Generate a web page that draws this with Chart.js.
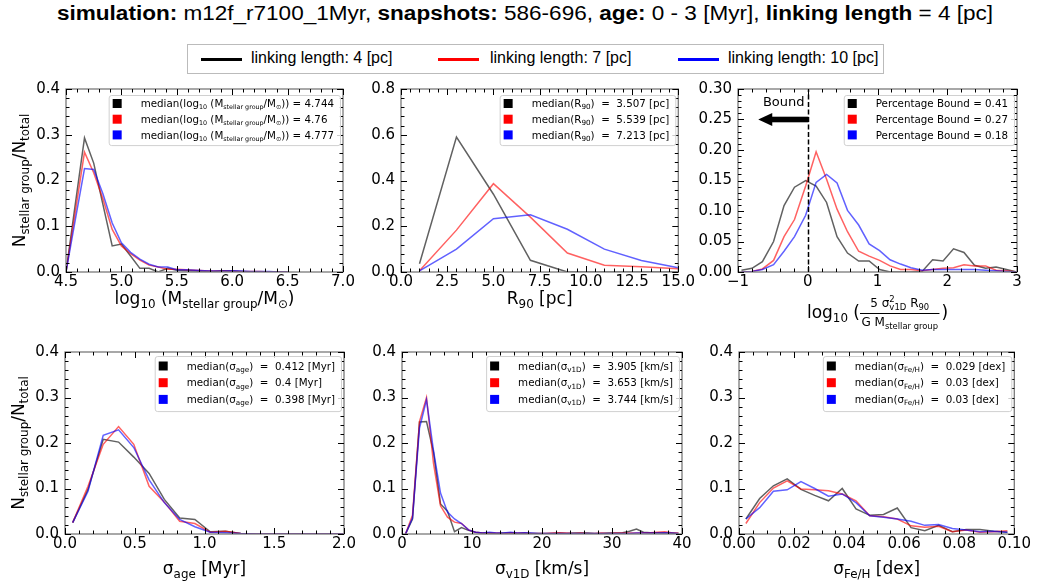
<!DOCTYPE html>
<html>
<head>
<meta charset="utf-8">
<script src="https://cdn.jsdelivr.net/npm/chart.js@4.4.0/dist/chart.umd.min.js"></script>
<style>
  body { margin: 0; background: #fff; width: 1038px; height: 587px; position: relative; overflow: hidden; }
  #title { position: absolute; top: 2px; left: 57px; white-space: nowrap; font-family: 'Liberation Sans'; font-size: 20px; transform-origin: 0 0; color: #000; }
  #legend { position: absolute; left: 187px; top: 44px; width: 697px; height: 30px; border: 1px solid #bbb; box-sizing: border-box; }
  #legend .key { position: absolute; top: 13px; width: 41px; height: 3px; }
  #legend .lab { position: absolute; top: 4px; font-family: 'Liberation Sans'; font-size: 16px; white-space: nowrap; color: #000; }
</style>
</head>
<body>
<div id="title"><b>simulation:</b> m12f_r7100_1Myr, <b>snapshots:</b> 586-696, <b>age:</b> 0 - 3 [Myr], <b>linking length</b> = 4 [pc]</div>
<div id="legend"></div>
<script>
// series: linking length 4, 7, 10 pc
const seriesLabels = ['linking length: 4 [pc]', 'linking length: 7 [pc]', 'linking length: 10 [pc]'];
const lineColors = ['rgba(0,0,0,0.62)', 'rgba(255,0,0,0.62)', 'rgba(0,0,255,0.62)'];
const keyColors = ['#000', '#f00', '#00f'];

// panel 1: log10 stellar group mass
const massBins = [4.5, 4.583, 4.667, 4.75, 4.833, 4.917, 5.0, 5.083, 5.167, 5.25, 5.333, 5.417, 5.5, 5.583, 5.667, 5.75, 5.833, 5.917, 6.0, 6.083, 6.167, 6.25, 6.333, 6.417, 6.5];
const massLL4 = [0, 0.147, 0.293, 0.238, 0.148, 0.057, 0.061, 0.035, 0.008, 0.008, 0.0, 0.008, 0.004, 0.003, 0.002, 0.001, 0.001, 0.003, 0.002, 0.001, 0, 0, 0, 0, 0];
const massLL7 = [0, 0.13, 0.262, 0.217, 0.16, 0.093, 0.057, 0.040, 0.026, 0.015, 0.011, 0.006, 0.006, 0.005, 0.004, 0.003, 0.002, 0.002, 0.002, 0.001, 0.001, 0.001, 0, 0, 0];
const massLL10 = [0, 0.113, 0.226, 0.224, 0.171, 0.107, 0.064, 0.043, 0.028, 0.017, 0.011, 0.011, 0.005, 0.005, 0.004, 0.003, 0.002, 0.002, 0.003, 0.002, 0.001, 0.001, 0.001, 0, 0];
const massMedian = ['4.744', '4.76', '4.777'];

// panel 2: R90
const r90Bins = [1, 3, 5, 7, 9, 11, 13, 15];
const r90LL4 = [0.036, 0.59, 0.34, 0.051, 0.0, 0.0, 0.0, 0.0];
const r90LL7 = [0.005, 0.183, 0.386, 0.24, 0.083, 0.03, 0.023, 0.014];
const r90LL10 = [0.005, 0.10, 0.233, 0.25, 0.187, 0.10, 0.05, 0.019];
const r90Median = ['3.507', '5.539', '7.213'];

// panel 3: virial parameter
const boundBins = [-0.95, -0.80, -0.65, -0.49, -0.34, -0.19, -0.03, 0.12, 0.27, 0.42, 0.57, 0.73, 0.88, 1.03, 1.18, 1.33, 1.48, 1.64, 1.79, 1.94, 2.09, 2.24, 2.39, 2.55, 2.70, 2.85, 3.0];
const boundLL4 = [0.003, 0.006, 0.017, 0.050, 0.109, 0.139, 0.150, 0.141, 0.114, 0.058, 0.031, 0.018, 0.018, 0.004, 0.0, 0, 0, 0.001, 0.020, 0.018, 0.038, 0.032, 0.011, 0.006, 0.008, 0.004, 0.0];
const boundLL7 = [0.0, 0.001, 0.005, 0.019, 0.058, 0.086, 0.141, 0.197, 0.152, 0.103, 0.066, 0.034, 0.026, 0.019, 0.010, 0.004, 0.004, 0.002, 0.004, 0.006, 0.007, 0.012, 0.010, 0.010, 0.003, 0.002, 0.0];
const boundLL10 = [0.0, 0.001, 0.004, 0.012, 0.034, 0.058, 0.093, 0.147, 0.160, 0.146, 0.101, 0.077, 0.046, 0.035, 0.020, 0.013, 0.007, 0.003, 0.004, 0.004, 0.004, 0.004, 0.004, 0.003, 0.002, 0.001, 0.0];
const boundPct = ['0.41', '0.27', '0.18'];

// panel 4: age spread
const ageBins = [0.055, 0.165, 0.274, 0.384, 0.493, 0.603, 0.712, 0.822, 0.931, 1.041, 1.150, 1.260, 1.369, 1.479, 1.588, 1.698, 1.807, 1.917, 2.026];
const ageLL4 = [0.025, 0.098, 0.208, 0.202, 0.169, 0.133, 0.076, 0.035, 0.032, 0.005, 0.006, 0.001, 0, 0, 0, 0, 0, 0, 0];
const ageLL7 = [0.025, 0.105, 0.197, 0.236, 0.197, 0.105, 0.070, 0.028, 0.023, 0.004, 0.006, 0.001, 0, 0, 0, 0, 0, 0, 0];
const ageLL10 = [0.025, 0.094, 0.217, 0.229, 0.190, 0.119, 0.069, 0.032, 0.016, 0.004, 0.003, 0.001, 0, 0, 0, 0, 0, 0, 0];
const ageMedian = ['0.412', '0.4', '0.398'];

// panel 5: 1D velocity dispersion
const velBins = [0.5, 1.5, 2.5, 3.5, 4.5, 5.5, 6.5, 7.5, 8.5, 9.5, 10.5, 11.5, 12.5, 13.5, 14.5, 15.5, 16.5, 17.5, 18.5, 19.5,
                 20.5, 21.5, 22.5, 23.5, 24.5, 25.5, 26.5, 27.5, 28.5, 29.5, 30.5, 31.5, 32.5, 33.5, 34.5, 35.5, 36.5, 37.5, 38.5, 39.5];
const velLL4 = [0, 0.033, 0.246, 0.247, 0.18, 0.066, 0.05, 0.005, 0.014, 0.008, 0.004, 0.002, 0.002, 0.001, 0.002, 0.002, 0.001, 0.002, 0.001, 0.001,
                0.001, 0.001, 0.002, 0.001, 0.002, 0.002, 0.002, 0.001, 0.001, 0.002, 0.002, 0.003, 0.006, 0.011, 0.004, 0.003, 0.003, 0.002, 0.002, 0.001];
const velLL7 = [0, 0.041, 0.247, 0.300, 0.155, 0.062, 0.037, 0.026, 0.023, 0.009, 0.004, 0.002, 0.002, 0.002, 0.001, 0.003, 0.002, 0.002, 0.001, 0.001,
                0.001, 0.002, 0.003, 0.002, 0.001, 0.002, 0.001, 0.001, 0.002, 0.001, 0.002, 0.002, 0.002, 0.002, 0.003, 0.003, 0.004, 0.005, 0.003, 0.002];
const velLL10 = [0, 0.035, 0.233, 0.295, 0.183, 0.090, 0.048, 0.033, 0.023, 0.009, 0.004, 0.002, 0.004, 0.002, 0.002, 0.004, 0.002, 0.003, 0.002, 0.001,
                 0.001, 0.001, 0.001, 0.001, 0.001, 0.001, 0.001, 0.001, 0.001, 0.001, 0.001, 0.001, 0.001, 0.002, 0.002, 0.002, 0.002, 0.003, 0.002, 0.001];
const velMedian = ['3.905', '3.653', '3.744'];

// panel 6: metallicity spread
const fehBins = [0.0025, 0.0075, 0.0125, 0.0175, 0.0225, 0.0275, 0.0325, 0.0375, 0.0425, 0.0475, 0.0525, 0.0575, 0.0625, 0.0675, 0.0725, 0.0775, 0.0825, 0.0875, 0.0925, 0.0975];
const fehLL4 = [0.033, 0.078, 0.106, 0.121, 0.098, 0.085, 0.073, 0.100, 0.055, 0.041, 0.043, 0.057, 0.014, 0.007, 0.019, 0.005, 0.010, 0.010, 0.006, 0.004];
const fehLL7 = [0.023, 0.069, 0.101, 0.117, 0.099, 0.097, 0.095, 0.088, 0.073, 0.040, 0.038, 0.033, 0.018, 0.015, 0.017, 0.005, 0.009, 0.004, 0.005, 0.007];
const fehLL10 = [0.033, 0.058, 0.094, 0.097, 0.115, 0.100, 0.083, 0.088, 0.069, 0.040, 0.037, 0.033, 0.028, 0.019, 0.021, 0.012, 0.009, 0.005, 0.006, 0.004];
const fehMedian = ['0.029', '0.03', '0.03'];

// tick labels
const fracYTicks = ['0.0', '0.1', '0.2', '0.3', '0.4'];
const r90YTicks = ['0.0', '0.2', '0.4', '0.6', '0.8'];
const boundYTicks = ['0.00', '0.05', '0.10', '0.15', '0.20', '0.25', '0.30'];
const massXTicks = ['4.5', '5.0', '5.5', '6.0', '6.5', '7.0'];
const r90XTicks = ['0.0', '2.5', '5.0', '7.5', '10.0', '12.5', '15.0'];
const boundXTicks = ['\u22121', '0', '1', '2', '3'];
const ageXTicks = ['0.0', '0.5', '1.0', '1.5', '2.0'];
const velXTicks = ['0', '10', '20', '30', '40'];
const fehXTicks = ['0.00', '0.02', '0.04', '0.06', '0.08', '0.10'];

const FONT = "'DejaVu Sans'";
Chart.defaults.font.family = 'DejaVu Sans';
Chart.defaults.font.size = 15;
Chart.defaults.color = '#000';

const tickVal = s => Number(s.replace('\u2212', '-'));

// rich text: parts are [text, mode] with mode 'b' = subscript, 'p' = superscript
function setFont(ctx, size) { ctx.font = size + 'px ' + FONT; }
function partsWidth(ctx, parts, size, sub = 0.7) {
  let w = 0;
  for (const [t, m] of parts) { setFont(ctx, m ? size * sub : size); w += ctx.measureText(t).width; }
  return w;
}
function drawParts(ctx, parts, x, y, size, align, sub = 0.7) {
  const w = partsWidth(ctx, parts, size, sub);
  let cx = align === 'center' ? x - w / 2 : align === 'right' ? x - w : x;
  ctx.textAlign = 'left';
  ctx.textBaseline = 'alphabetic';
  for (const [t, m] of parts) {
    setFont(ctx, m ? size * sub : size);
    const dy = m === 'b' ? size * 0.22 : m === 'p' ? -size * 0.4 : 0;
    ctx.fillText(t, cx, y + dy);
    cx += ctx.measureText(t).width;
  }
  return w;
}

const yTitle = [['N'], ['stellar group', 'b'], ['/N'], ['total', 'b']];

const PANELS = [
  { row: 0, col: 0, box: [66, 84, 343, 272], xs: massBins, ys: [massLL4, massLL7, massLL10],
    xMin: 4.5, xMax: 7.0, xTicks: massXTicks, xMinor: 0.1, yMax: 0.4, yTicks: fracYTicks, yMinor: 0.02,
    xTitle: [['log'], ['10', 'b'], [' (M'], ['stellar group', 'b'], ['/M'], ['\u2299', 'b'], [')']],
    legendSub: 0.62,
    legend: massMedian.map(v => [['median(log'], ['10', 'b'], [' (M'], ['stellar group', 'b'], ['/M'], ['\u2299', 'b'], [')) = ' + v]]) },
  { row: 0, col: 1, box: [401, 84, 682, 272], xs: r90Bins, ys: [r90LL4, r90LL7, r90LL10],
    xMin: 0, xMax: 15, xTicks: r90XTicks, xMinor: 0.5, yMax: 0.8, yTicks: r90YTicks, yMinor: 0.04,
    xTitle: [['R'], ['90', 'b'], [' [pc]']],
    legend: r90Median.map(v => [['median(R'], ['90', 'b'], [')  =  ' + v + ' [pc]']]) },
  { row: 0, col: 2, box: [738, 84, 1017, 272], xs: boundBins, ys: [boundLL4, boundLL7, boundLL10],
    xMin: -1, xMax: 3, xTicks: boundXTicks, xMinor: 0.2, yMax: 0.3, yTicks: boundYTicks, yMinor: 0.01,
    xTitle: null, bound: true,
    legend: boundPct.map(v => [['Percentage Bound = ' + v]]) },
  { row: 1, col: 0, box: [65, 347, 344, 534], xs: ageBins, ys: [ageLL4, ageLL7, ageLL10],
    xMin: 0, xMax: 2, xTicks: ageXTicks, xMinor: 0.1, yMax: 0.4, yTicks: fracYTicks, yMinor: 0.02,
    xTitle: [['\u03c3'], ['age', 'b'], [' [Myr]']],
    legend: ageMedian.map(v => [['median(\u03c3'], ['age', 'b'], [')  =  ' + v + ' [Myr]']]) },
  { row: 1, col: 1, box: [402, 347, 682, 534], xs: velBins, ys: [velLL4, velLL7, velLL10],
    xMin: 0, xMax: 40, xTicks: velXTicks, xMinor: 2, yMax: 0.4, yTicks: fracYTicks, yMinor: 0.02,
    xTitle: [['\u03c3'], ['v1D', 'b'], [' [km/s]']],
    legend: velMedian.map(v => [['median(\u03c3'], ['v1D', 'b'], [')  =  ' + v + ' [km/s]']]) },
  { row: 1, col: 2, box: [739, 347, 1018, 534], xs: fehBins, ys: [fehLL4, fehLL7, fehLL10],
    xMin: 0, xMax: 0.1, xTicks: fehXTicks, xMinor: 0.005, yMax: 0.4, yTicks: fracYTicks, yMinor: 0.02,
    xTitle: [['\u03c3'], ['Fe/H', 'b'], [' [dex]']],
    legend: fehMedian.map(v => [['median(\u03c3'], ['Fe/H', 'b'], [')  =  ' + v + ' [dex]']]) }
];

// x label of the virial panel: log10( 5 sigma^2 R90 / G M )
function drawBoundTitle(ctx, cx, base) {
  const big = 17, sm = 12, tiny = 8.5;
  const left = [['log'], ['10', 'b'], [' (']];
  const wl = partsWidth(ctx, left, big);
  setFont(ctx, sm); const w5 = ctx.measureText('5 \u03c3').width;
  setFont(ctx, tiny); const wSS = Math.max(ctx.measureText('2').width, ctx.measureText('v1D').width);
  const numTail = [[' R'], ['90', 'b']];
  const wNum = w5 + wSS + partsWidth(ctx, numTail, sm);
  const den = [['G M'], ['stellar group', 'b']];
  const wDen = partsWidth(ctx, den, sm);
  const wf = Math.max(wNum, wDen) + 3;
  setFont(ctx, big); const wr = ctx.measureText(')').width;
  const total = wl + wf + 2 + wr;
  let x = cx - total / 2;
  drawParts(ctx, left, x, base, big, 'left');
  x += wl;
  // numerator
  let nx = x + (wf - wNum) / 2, ny = base - 11;
  setFont(ctx, sm); ctx.fillText('5 \u03c3', nx, ny); nx += w5;
  setFont(ctx, tiny); ctx.fillText('2', nx, ny - 5); ctx.fillText('v1D', nx, ny + 2.5); nx += wSS;
  drawParts(ctx, numTail, nx, ny, sm, 'left');
  // bar
  ctx.fillRect(x, base - 5, wf, 1);
  drawParts(ctx, den, x + (wf - wDen) / 2, base + 8, sm, 'left');
  x += wf + 2;
  setFont(ctx, big); ctx.fillText(')', x, base);
}

function decor(p) {
  return {
    id: 'decor',
    afterDatasetsDraw(chart) {
      const ctx = chart.ctx, a = chart.chartArea, sx = chart.scales.x, sy = chart.scales.y;
      ctx.save();
      ctx.fillStyle = '#000';

      if (p.bound) {
        const x0 = Math.round(sx.getPixelForValue(0)) + 0.5;
        ctx.strokeStyle = '#000'; ctx.lineWidth = 1.5; ctx.setLineDash([5, 2.5]);
        ctx.beginPath(); ctx.moveTo(x0, a.bottom); ctx.lineTo(x0, a.top); ctx.stroke();
        ctx.setLineDash([]);
        const ay = sy.getPixelForValue(0.25), tip = sx.getPixelForValue(-0.71);
        ctx.fillRect(tip + 12, ay - 2.8, x0 - tip - 12, 5.6);
        ctx.beginPath(); ctx.moveTo(tip, ay); ctx.lineTo(tip + 14, ay - 6.5); ctx.lineTo(tip + 14, ay + 6.5); ctx.closePath(); ctx.fill();
        setFont(ctx, 13); ctx.textAlign = 'right'; ctx.textBaseline = 'alphabetic';
        ctx.fillText('Bound', x0 - 4, sy.getPixelForValue(0.272));
      }

      // frame
      ctx.strokeStyle = '#7a7a7a'; ctx.lineWidth = 1.3;
      ctx.strokeRect(a.left, a.top, a.right - a.left, a.bottom - a.top);

      // inward ticks on all four sides
      ctx.strokeStyle = '#000'; ctx.lineWidth = 1;
      const xMaj = p.xTicks.map(tickVal), yMaj = p.yTicks.map(tickVal);
      const isMaj = (v, list, step) => list.some(m => Math.abs(m - v) < step * 0.01);
      ctx.beginPath();
      for (let v = p.xMin, i = 0; v <= p.xMax + p.xMinor * 0.01; i++, v = p.xMin + i * p.xMinor) {
        const len = isMaj(v, xMaj, p.xMinor) ? 6 : 3.5;
        const x = Math.round(sx.getPixelForValue(v)) + 0.5;
        ctx.moveTo(x, a.bottom); ctx.lineTo(x, a.bottom - len);
        ctx.moveTo(x, a.top); ctx.lineTo(x, a.top + len);
      }
      for (let v = 0, i = 0; v <= p.yMax + p.yMinor * 0.01; i++, v = i * p.yMinor) {
        const len = isMaj(v, yMaj, p.yMinor) ? 6 : 3.5;
        const y = Math.round(sy.getPixelForValue(v)) + 0.5;
        ctx.moveTo(a.left, y); ctx.lineTo(a.left + len, y);
        ctx.moveTo(a.right, y); ctx.lineTo(a.right - len, y);
      }
      ctx.stroke();

      // legend box
      const size = 10.3, gap = p.row === 0 ? 15.7 : 16.7, sub = p.legendSub || 0.7;
      const tw = Math.max(...p.legend.map(parts => partsWidth(ctx, parts, size, sub)));
      const bw = 32 + tw + 6, bh = gap * 3 + (p.row === 0 ? 3 : 5);
      const bx = a.right - 3 - bw, by = a.top + (p.row === 0 ? 6 : 4);
      ctx.beginPath(); ctx.roundRect(bx + 0.5, by + 0.5, bw, bh, 2.5);
      ctx.fillStyle = 'rgba(255,255,255,0.8)'; ctx.fill();
      ctx.strokeStyle = '#d0d0d0'; ctx.lineWidth = 1; ctx.stroke();
      p.legend.forEach((parts, i) => {
        const cy = by + (p.row === 0 ? 8.5 : 10) + i * gap;
        ctx.fillStyle = keyColors[i];
        ctx.fillRect(bx + 4, cy - 4.5, 9, 9);
        ctx.fillStyle = '#000';
        drawParts(ctx, parts, bx + 32, cy + size * 0.36, size, 'left', sub);
      });

      // axis titles
      ctx.fillStyle = '#000';
      const cx = (a.left + a.right) / 2;
      if (p.xTitle) drawParts(ctx, p.xTitle, cx, a.bottom + (p.row === 0 ? 32 : 40), 17, 'center');
      else drawBoundTitle(ctx, cx, a.bottom + 46);
      if (p.col === 0) {
        ctx.translate(25, (a.top + a.bottom) / 2);
        ctx.rotate(-Math.PI / 2);
        drawParts(ctx, yTitle, 0, 0, 17, 'center');
      }
      ctx.restore();
    }
  };
}

const L = 66, R = 14, T = 10, B = 66;
PANELS.forEach(p => {
  const [x0, y0, x1, y1] = p.box;
  const W = x1 - x0 + L + R, H = y1 - y0 + T + B;
  const cv = document.createElement('canvas');
  cv.width = W; cv.height = H;
  cv.style.cssText = `position:absolute;left:${x0 - L}px;top:${y0 - T}px;width:${W}px;height:${H}px`;
  document.body.appendChild(cv);

  new Chart(cv, {
    type: 'line',
    data: {
      datasets: p.ys.map((vals, i) => ({
        label: seriesLabels[i],
        data: p.xs.map((x, j) => ({ x: x, y: vals[j] })),
        borderColor: lineColors[i],
        borderWidth: 1.5,
        pointRadius: 0,
        tension: 0,
        fill: false,
        order: 3 - i
      }))
    },
    options: {
      responsive: false,
      animation: false,
      devicePixelRatio: 1,
      events: [],
      layout: { padding: { left: 0, top: T, right: R, bottom: 0 }, autoPadding: false },
      plugins: { legend: { display: false }, tooltip: { enabled: false } },
      scales: {
        x: {
          type: 'linear', min: p.xMin, max: p.xMax,
          grid: { display: false, drawTicks: false }, border: { display: false },
          afterBuildTicks: s => { s.ticks = p.xTicks.map(t => ({ value: tickVal(t) })); },
          afterFit: s => { s.height = B; },
          ticks: { autoSkip: false, maxRotation: 0, padding: 1, callback: (v, i) => p.xTicks[i] }
        },
        y: {
          type: 'linear', min: 0, max: p.yMax,
          grid: { display: false, drawTicks: false }, border: { display: false },
          afterBuildTicks: s => { s.ticks = p.yTicks.map(t => ({ value: tickVal(t) })); },
          afterFit: s => { s.width = L; },
          ticks: { autoSkip: false, padding: 6, callback: (v, i) => p.yTicks[i] }
        }
      }
    },
    plugins: [decor(p)]
  });
});

// shared legend
const legendBox = document.getElementById('legend');
const keyLeft = [13, 250, 490], labLeft = [63, 302, 540];
seriesLabels.forEach((lab, i) => {
  const k = document.createElement('div');
  k.className = 'key'; k.style.left = keyLeft[i] + 'px'; k.style.background = keyColors[i];
  legendBox.appendChild(k);
  const t = document.createElement('div');
  t.className = 'lab'; t.style.left = labLeft[i] + 'px'; t.textContent = lab;
  legendBox.appendChild(t);
});

// fit title width
const title = document.getElementById('title');
const tWidth = title.getBoundingClientRect().width;
title.style.transform = `scaleX(${936 / tWidth})`;
</script>
</body>
</html>
